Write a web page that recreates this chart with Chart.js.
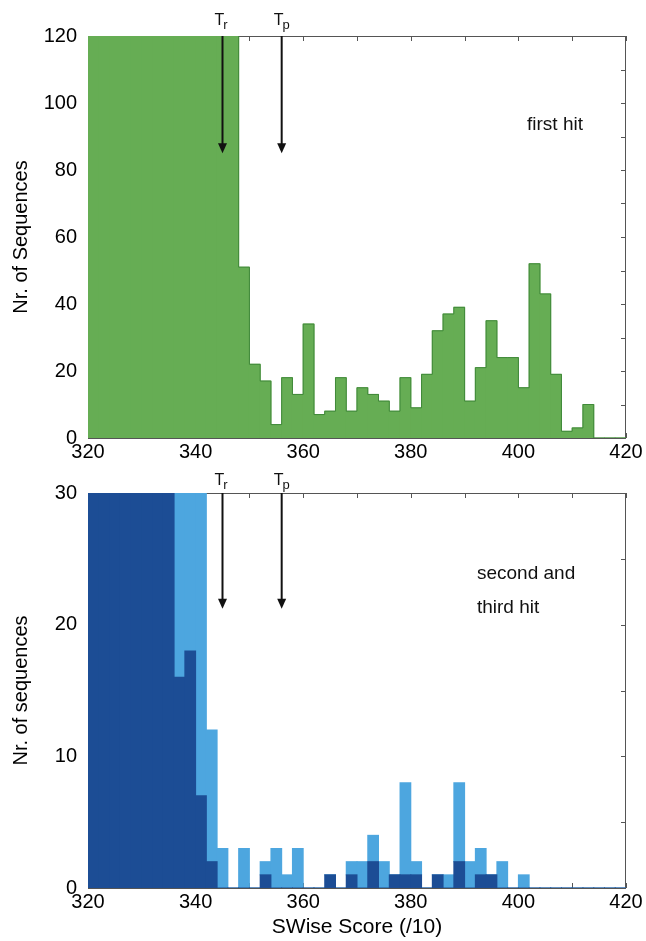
<!DOCTYPE html>
<html><head><meta charset="utf-8">
<script src="https://cdn.jsdelivr.net/npm/chart.js@4.4.0/dist/chart.umd.min.js"></script>
<style>
html,body{margin:0;padding:0;background:#fff;}
#wrap{position:relative;width:646px;height:941px;overflow:hidden;}
canvas{position:absolute;left:0;}
</style></head><body>
<div id="wrap">
<canvas id="top" width="646" height="470" style="top:0"></canvas>
<canvas id="bot" width="646" height="471" style="top:470px"></canvas>
</div>
<script>
// ---- data ----
const binWidth = 2;
const binStarts = [320,322,324,326,328,330,332,334,336,338,
                   340,342,344,346,348,350,352,354,356,358,
                   360,362,364,366,368,370,372,374,376,378,
                   380,382,384,386,388,390,392,394,396,398,
                   400,402,404,406,408,410,412,414,416,418];
// first hit (top panel); bins 320-346 run off the top of the axis
const firstHit = [130,135,140,145,150,150,145,140,140,135,
                  130,130,125,125,51,22,17,4,18,13,
                  34,7,8,18,8,15,13,11,8,18,
                  9,19,32,37,39,11,21,35,24,24,
                  15,52,43,19,2,3,10,0,0,0];
// second and third hit (bottom panel), stacked: dark part + light part
const hitDark  = [45,48,50,47,44,42,38,34,16,18,
                  7,2,0,0,0,0,1,0,0,0,
                  0,0,1,0,1,0,2,0,1,1,
                  1,0,1,0,2,0,1,1,0,0,
                  0,0,0,0,0,0,0,0,0,0];
const hitLight = [0,0,0,0,0,0,0,0,20,18,
                  26,10,3,0,3,0,1,3,1,3,
                  0,0,0,0,1,2,2,2,0,7,
                  1,0,0,1,6,2,2,0,2,0,
                  1,0,0,0,0,0,0,0,0,0];
const xTickLabels = [320,340,360,380,400,420];
const topYTickLabels = [0,20,40,60,80,100,120];
const botYTickLabels = [0,10,20,30];
const thresholds = [{sub:'r', value:345}, {sub:'p', value:356}];
const topArrowTip = 85;
const botArrowTip = 21.2;
const topNotes = [{text:'first hit', x:401.6, y:93.5}];
const botNotes = [{text:'second and', x:392.3, y:23.9}, {text:'third hit', x:392.3, y:21.3}];

// ---- helpers ----
const FONT = "'Liberation Sans', Arial, sans-serif";
const toPoints = vals => binStarts.map((s,i) => ({x: s + binWidth/2, y: vals[i]}));
const outline = vals => {
  const pts = binStarts.map((s,i) => ({x: s, y: vals[i]}));
  pts.push({x: binStarts[binStarts.length-1] + binWidth, y: vals[vals.length-1]});
  return pts;
};

const frameTicks = {
  id: 'frameTicks',
  beforeDatasetsDraw(chart, args, opts) {
    const {ctx, chartArea: a, scales: {x, y}} = chart;
    ctx.save();
    ctx.strokeStyle = '#555';
    ctx.lineWidth = 1;
    ctx.strokeRect(Math.round(a.left)+0.5, Math.round(a.top)+0.5,
                   Math.round(a.right-a.left)-1, Math.round(a.bottom-a.top));
    const L = 5;
    ctx.beginPath();
    x.ticks.forEach(t => {
      const px = Math.round(x.getPixelForValue(t.value)) + 0.5;
      ctx.moveTo(px, a.bottom); ctx.lineTo(px, a.bottom - L);
      ctx.moveTo(px, a.top); ctx.lineTo(px, a.top + L);
    });
    y.ticks.forEach(t => {
      const py = Math.round(y.getPixelForValue(t.value)) + 0.5;
      ctx.moveTo(a.left, py); ctx.lineTo(a.left + L, py);
      ctx.moveTo(a.right, py); ctx.lineTo(a.right - L, py);
    });
    ctx.stroke();
    ctx.restore();
  }
};

const marks = {
  id: 'marks',
  afterDatasetsDraw(chart, args, opts) {
    const {ctx, chartArea: a, scales: {x, y}} = chart;
    ctx.save();
    ctx.fillStyle = '#111';
    ctx.strokeStyle = '#111';
    thresholds.forEach(t => {
      const px = x.getPixelForValue(t.value);
      const tip = y.getPixelForValue(opts.tip);
      ctx.lineWidth = 2;
      ctx.beginPath();
      ctx.moveTo(px, a.top);
      ctx.lineTo(px, tip - 8);
      ctx.stroke();
      ctx.beginPath();
      ctx.moveTo(px - 4.5, tip - 10);
      ctx.lineTo(px + 4.5, tip - 10);
      ctx.lineTo(px, tip);
      ctx.closePath();
      ctx.fill();
      ctx.textAlign = 'left';
      ctx.textBaseline = 'alphabetic';
      ctx.font = '16px ' + FONT;
      const tx = px - 8, ty = a.top - opts.labelOffset;
      ctx.fillText('T', tx, ty);
      const w = ctx.measureText('T').width;
      ctx.font = '13px ' + FONT;
      ctx.fillText(t.sub, tx + w - 1, ty + 4);
    });
    ctx.font = '19px ' + FONT;
    ctx.textAlign = 'left';
    ctx.textBaseline = 'middle';
    opts.notes.forEach(n => {
      ctx.fillText(n.text, x.getPixelForValue(n.x), y.getPixelForValue(n.y));
    });
    ctx.restore();
  }
};

function xScale(withTitle, height) {
  return {
    type: 'linear', min: 320, max: 420, offset: false, stacked: true,
    grid: {display: false, drawTicks: false, offset: false},
    border: {display: false},
    ticks: {
      stepSize: 10, autoSkip: false, maxRotation: 0, padding: 2,
      color: '#000', font: {family: FONT, size: 20},
      callback: v => xTickLabels.includes(v) ? String(v) : ''
    },
    title: {display: withTitle, text: 'SWise Score (/10)', color: '#000',
            font: {family: FONT, size: 21}, padding: {top: 0, bottom: 1}},
    afterFit: s => { s.height = height; }
  };
}
function yScale(max, step, labels, title, titlePad, stacked) {
  return {
    min: 0, max: max, stacked: stacked,
    grid: {display: false, drawTicks: false},
    border: {display: false},
    ticks: {
      stepSize: step, autoSkip: false, padding: 11,
      color: '#000', font: {family: FONT, size: 20},
      callback: v => labels.includes(v) ? String(v) : ''
    },
    title: {display: true, text: title, color: '#000',
            font: {family: FONT, size: 20}, padding: {top: titlePad, bottom: 0}},
    afterFit: s => { s.width = 88; }
  };
}

new Chart(document.getElementById('top'), {
  type: 'bar',
  data: {
    datasets: [
      {type: 'line', data: outline(firstHit), stepped: 'before', borderColor: '#40893a',
       borderWidth: 1, pointRadius: 0, fill: false, clip: 0, order: 0},
      {label: 'first hit', data: toPoints(firstHit), backgroundColor: '#66ad54',
       borderWidth: 0, barPercentage: 1, categoryPercentage: 1, inflateAmount: 0.5, clip: 0, order: 1}
    ]
  },
  options: {
    responsive: false, animation: false, devicePixelRatio: 1,
    layout: {padding: {top: 36, right: 20, left: 0, bottom: 0}},
    plugins: {legend: {display: false}, tooltip: {enabled: false},
              marks: {tip: topArrowTip, labelOffset: 11, notes: topNotes}},
    scales: {
      x: xScale(false, 32),
      y: yScale(120, 10, topYTickLabels, 'Nr. of Sequences', 9, false)
    }
  },
  plugins: [frameTicks, marks]
});

new Chart(document.getElementById('bot'), {
  type: 'bar',
  data: {
    datasets: [
      {label: 'dark', data: toPoints(hitDark), backgroundColor: '#1c4d95',
       borderWidth: 0, barPercentage: 1, categoryPercentage: 1, inflateAmount: 0.5, clip: 0},
      {label: 'light', data: toPoints(hitLight), backgroundColor: '#4da6df',
       borderWidth: 0, barPercentage: 1, categoryPercentage: 1, inflateAmount: 0.5, clip: 0}
    ]
  },
  options: {
    responsive: false, animation: false, devicePixelRatio: 1,
    layout: {padding: {top: 18, right: 20, left: 0, bottom: 0}},
    plugins: {legend: {display: false}, tooltip: {enabled: false},
              marks: {tip: botArrowTip, labelOffset: 8, notes: botNotes}},
    scales: {
      x: xScale(true, 53),
      y: yScale(30, 5, botYTickLabels, 'Nr. of sequences', 9, true)
    }
  },
  plugins: [frameTicks, marks]
});
</script>
</body></html>
